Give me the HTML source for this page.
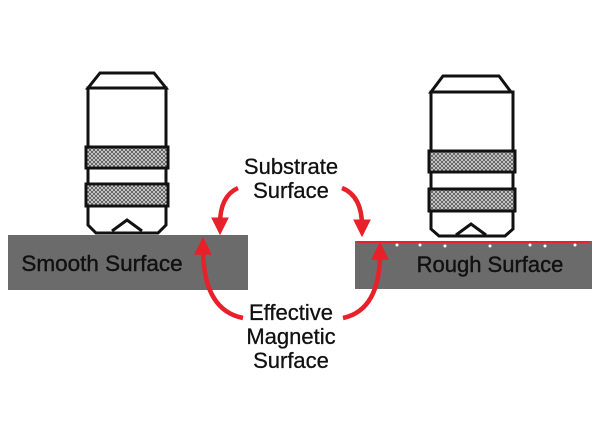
<!DOCTYPE html>
<html><head><style>
body{margin:0;background:#fff;}
svg{display:block;}
text{font-family:"Liberation Sans",sans-serif;}
</style></head><body>
<svg width="600" height="442" viewBox="0 0 600 442">
<defs>
<pattern id="kn" width="4" height="4" patternUnits="userSpaceOnUse">
<rect width="4" height="4" fill="#ddd"/>
<path d="M0 0L4 4M4 0L0 4" stroke="#555" stroke-width="0.9"/>
</pattern>
<marker id="ah" markerWidth="4" markerHeight="4" refX="1.5" refY="2" orient="auto" markerUnits="strokeWidth">
<path d="M0 0L4 2L0 4z" fill="#e8202a"/>
</marker>
</defs>
<rect x="8" y="235" width="240" height="55" fill="#6b6b6b"/>
<text x="102" y="271" font-size="22.5" text-anchor="middle" fill="#111" stroke="#111" stroke-width="0.4">Smooth Surface</text>
<g fill="#fff" stroke="#111" stroke-width="3">
<path d="M100 73H154L166 88H88Z"/>
<path d="M88 88H166V225L158 233H96L88 225Z"/>
<rect x="86" y="147" width="82" height="21" fill="url(#kn)"/>
<rect x="86" y="184" width="82" height="22" fill="url(#kn)"/>
<path d="M112 231L127 220L142 231" fill="none"/>
</g>
<rect x="355" y="241" width="237" height="48" fill="#6b6b6b"/>
<path d="M357 242H590" stroke="#e8202a" stroke-width="2"/>
<g fill="#fff"><circle cx="397" cy="245" r="1.5"/><circle cx="420" cy="245" r="1.5"/><circle cx="445" cy="246" r="1.5"/><circle cx="490" cy="246" r="1.5"/><circle cx="530" cy="245" r="1.5"/><circle cx="545" cy="246" r="1.5"/><circle cx="575" cy="245" r="1.5"/></g>
<text x="490" y="272" font-size="22" text-anchor="middle" fill="#111" stroke="#111" stroke-width="0.4">Rough Surface</text>
<g fill="#fff" stroke="#111" stroke-width="3">
<path d="M443 76H499L511 92H431Z"/>
<path d="M431 92H513V229L505 236H439L431 229Z"/>
<rect x="429" y="151" width="86" height="21" fill="url(#kn)"/>
<rect x="429" y="189" width="86" height="22" fill="url(#kn)"/>
<path d="M456 235L471 224L486 235" fill="none"/>
</g>
<g font-size="22" text-anchor="middle" fill="#111" stroke="#111" stroke-width="0.3">
<text x="291" y="174">Substrate</text>
<text x="291" y="198">Surface</text>
<text x="291" y="320">Effective</text>
<text x="291" y="344">Magnetic</text>
<text x="291" y="368">Surface</text>
</g>
<g fill="none" stroke="#e8202a" stroke-width="4.5">
<path d="M238 188Q220 196 220 224" marker-end="url(#ah)"/>
<path d="M342 188Q362 196 362 226" marker-end="url(#ah)"/>
<path d="M243 318Q203 310 203 248" marker-end="url(#ah)"/>
<path d="M343 318Q380 310 380 253" marker-end="url(#ah)"/>
</g>
</svg>
</body></html>
